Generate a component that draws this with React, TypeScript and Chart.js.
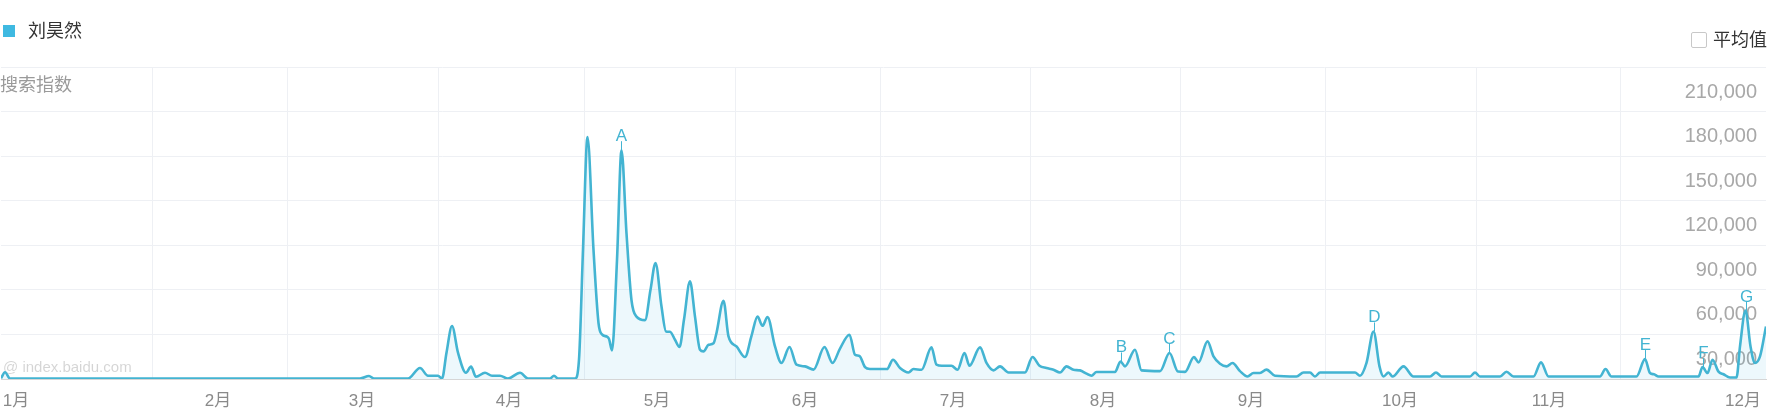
import React, { useEffect, useRef } from 'react';
import { Chart, registerables } from 'chart.js';

Chart.register(...registerables);

// ---------- data ----------
const seriesName = '刘昊然';
const yAxisTitle = '搜索指数';
const averageLabel = '平均值';
const watermark = '@ index.baidu.com';

// position along the time axis (day-like units) and search index value
const days = [
  0, 0.8, 1.8, 11.8, 29.8, 49.8, 71.8, 73.6, 74.6, 81.4, 83.8, 85.4, 87.4, 88.2, 89.1, 90.2, 91.4, 93.0, 94.0, 95.0,
  96.8, 98.2, 99.8, 101.4, 103.8, 105.4, 109.8, 110.6, 111.4, 114.8, 115.6, 116.4, 117.3, 118.5, 119.5, 120.2, 121.2,
  121.6, 122.2, 123.2, 124.1, 125.1, 126.1, 127.1, 128.8, 129.9, 130.9, 132.1, 133.0, 133.8, 134.8, 135.7, 136.6,
  137.8, 138.8, 139.8, 140.5, 141.5, 142.5, 143.1, 144.5, 145.5, 147.1, 148.8, 150.1, 151.3, 152.3, 153.3, 154.8,
  156.1, 157.7, 159.1, 160.8, 162.5, 164.7, 166.3, 167.8, 169.7, 170.8, 171.7, 172.8, 173.8, 177.2, 178.4, 179.8,
  181.5, 182.5, 184.1, 186.1, 187.1, 188.2, 190.1, 191.3, 192.7, 193.7, 195.8, 197.1, 198.5, 199.8, 201.5, 204.8,
  206.3, 207.7, 209.1, 210.5, 211.8, 213.1, 214.5, 215.8, 217.1, 218.1, 219.1, 222.8, 223.9, 224.8, 226.8, 228.1,
  231.8, 233.7, 235.4, 236.8, 238.6, 239.5, 241.3, 242.5, 243.8, 245.1, 246.3, 247.8, 249.3, 250.5, 251.8, 253.1,
  254.8, 259.1, 260.5, 261.8, 262.8, 263.8, 270.8, 271.8, 273.1, 274.5, 275.7, 276.5, 277.5, 278.3, 280.5, 282.5,
  285.8, 287.0, 288.1, 293.8, 294.8, 295.8, 299.8, 301.1, 302.5, 306.5, 308.0, 309.5, 319.8, 320.9, 322.1, 327.1,
  328.8, 329.8, 330.6, 331.5, 339.5, 340.3, 341.3, 342.3, 343.5, 344.5, 345.8, 347.1, 347.8, 348.9, 349.9, 350.8,
  351.8, 353.0,
];
const values = [
  500, 4500, 300, 300, 300, 300, 300, 2000, 300, 300, 7400, 2200, 2200, 300, 17700, 35700, 17700, 4200, 8300, 1500,
  4200, 2200, 2200, 300, 4200, 300, 300, 2200, 300, 300, 13000, 87000, 162800, 86900, 37700, 30000, 28500,
  27000, 19300, 80000, 154000, 98000, 53000, 42000, 39600, 60000, 78000, 48800, 32000, 31800, 26400, 21500, 40000,
  65700, 42000, 19700, 18600, 23000, 24000, 31000, 52700, 28700, 21900, 14800, 29000, 42000, 35800, 41700, 21900,
  10800, 21500, 9600, 8500, 6300, 21500, 10800, 20500, 29800, 16300, 15500, 8000, 6700, 6700, 13000, 7400,
  4400, 6700, 6200, 21300, 9600, 8900, 8900, 6200, 17500, 8900, 21300, 10800, 5800, 8500, 4400, 4400,
  14800, 8900, 7400, 6200, 4400, 8500, 6200, 5800, 3600, 2200, 4700, 4700, 11800, 8500, 19700, 5800,
  5300, 17500, 5000, 4800, 14800, 11200, 25300, 15200, 10300, 8500, 10800, 5300, 1700, 4000, 4000, 6300,
  2200, 1700, 4400, 4400, 1700, 4400, 4400, 2200, 10800, 32000, 8500, 1700, 4400, 1700, 8500, 1700,
  1700, 4400, 1700, 1700, 4400, 1700, 1700, 4900, 1700, 1700, 11200, 1700, 1700, 6700, 1700, 1700,
  13400, 4000, 3200, 1700, 1700, 8000, 4000, 13000, 5000, 3200, 1000, 1000, 22000, 46000, 22000, 10800,
  15200, 35400,
];

const monthLabels = ['1月', '2月', '3月', '4月', '5月', '6月', '7月', '8月', '9月', '10月', '11月', '12月'];
const monthTickDays = [3.0, 43.4, 72.2, 101.6, 131.2, 160.8, 190.4, 220.4, 250.0, 279.8, 309.6, 348.4];
const gridDays = [30.2, 57.2, 87.4, 116.6, 146.8, 175.8, 205.8, 235.8, 264.8, 295.0, 323.8];
const axisMaxDay = 353;
const yMax = 210000;
const yStep = 30000;

const markerLabels = ['A', 'B', 'C', 'D', 'E', 'F', 'G'];
const markerDays = [124.1, 223.9, 233.7, 274.5, 328.8, 340.3, 348.9];

// ---------- styles ----------
const lineColor = '#43b4d2';
const legendColor = '#3fb9e1';
const latin = '"Liberation Sans", Arial, "Noto Sans CJK SC", sans-serif';

const markerPlugin = {
  id: 'peakMarkers',
  beforeDatasetsDraw(chart: any) {
    const { ctx, chartArea } = chart;
    ctx.save();
    ctx.font = `15px ${latin}`;
    ctx.fillStyle = 'rgba(0,0,0,0.17)';
    ctx.textAlign = 'left';
    ctx.textBaseline = 'middle';
    ctx.fillText(watermark, chartArea.left + 2, chartArea.bottom - 11);
    ctx.restore();
  },
  afterDatasetsDraw(chart: any) {
    const { ctx } = chart;
    const xs = chart.scales.x;
    const ys = chart.scales.y;
    ctx.save();
    ctx.font = `17px ${latin}`;
    ctx.fillStyle = lineColor;
    ctx.strokeStyle = lineColor;
    ctx.lineWidth = 1;
    ctx.textAlign = 'center';
    ctx.textBaseline = 'alphabetic';
    markerLabels.forEach((label, i) => {
      const d = markerDays[i];
      const idx = days.indexOf(d);
      if (idx < 0) return;
      const px = Math.round(xs.getPixelForValue(d)) + 0.5;
      const py = ys.getPixelForValue(values[idx]);
      ctx.beginPath();
      ctx.moveTo(px, py);
      ctx.lineTo(px, py - 9);
      ctx.stroke();
      ctx.fillText(label, px, py - 9);
    });
    ctx.restore();
  },
};

export default function App() {
  const ref = useRef<HTMLCanvasElement>(null);

  useEffect(() => {
    if (!ref.current) return;
    const allTicks = [...monthTickDays, ...gridDays].sort((a, b) => a - b);
    const chart = new Chart(ref.current, {
      type: 'line',
      data: {
        datasets: [
          {
            label: seriesName,
            data: days.map((d, i) => ({ x: d, y: values[i] })),
            borderColor: lineColor,
            backgroundColor: 'rgba(80, 190, 222, 0.10)',
            borderWidth: 2.6,
            pointRadius: 0,
            fill: 'origin',
            cubicInterpolationMode: 'monotone',
          },
        ],
      },
      options: {
        animation: false,
        responsive: false,
        devicePixelRatio: 1,
        layout: { padding: { top: 67, left: 1, right: 9, bottom: 0 } },
        plugins: { legend: { display: false }, tooltip: { enabled: false } },
        scales: {
          x: {
            type: 'linear',
            min: 0,
            max: axisMaxDay,
            afterBuildTicks: (scale: any) => {
              scale.ticks = allTicks.map((v) => ({ value: v }));
            },
            afterFit: (scale: any) => {
              scale.height = 37;
              scale.paddingLeft = 0;
              scale.paddingRight = 0;
            },
            ticks: {
              autoSkip: false,
              maxRotation: 0,
              padding: 12,
              color: '#8a8a8a',
              font: { size: 17, family: latin },
              callback: (value: any) => {
                const i = monthTickDays.indexOf(Number(value));
                return i >= 0 ? monthLabels[i] : '';
              },
            },
            grid: {
              drawTicks: false,
              lineWidth: 1,
              color: (c: any) => (c.tick && gridDays.indexOf(c.tick.value) >= 0 ? '#eef0f4' : 'rgba(0,0,0,0)'),
            },
            border: { display: true, color: '#d6d6d6', width: 1 },
          },
          y: {
            position: 'right',
            min: 0,
            max: yMax,
            afterFit: (scale: any) => {
              scale.width = 0;
              scale.paddingTop = 0;
              scale.paddingBottom = 0;
            },
            ticks: {
              stepSize: yStep,
              mirror: true,
              padding: -9,
              labelOffset: 25,
              color: '#a8a8a8',
              font: { size: 20, family: latin },
              callback: (value: any) => (Number(value) === 0 ? '' : Number(value).toLocaleString('en-US')),
            },
            grid: { drawTicks: false, color: '#eef0f4', lineWidth: 1 },
            border: { display: false },
          },
        },
      },
      plugins: [markerPlugin],
    } as any);
    return () => chart.destroy();
  }, []);

  const cjk = '"Liberation Sans", "Noto Sans CJK SC", sans-serif';
  return (
    <div
      style={{
        position: 'absolute',
        left: 0,
        top: 0,
        width: 1775,
        height: 416,
        background: '#fff',
        overflow: 'hidden',
        fontFamily: cjk,
      }}
    >
      <canvas ref={ref} width={1775} height={416} style={{ position: 'absolute', left: 0, top: 0 }} />
      <div style={{ position: 'absolute', left: 3, top: 25, width: 12, height: 12, background: legendColor }} />
      <div style={{ position: 'absolute', left: 28, top: 22, fontSize: 18, lineHeight: '18px', color: '#333' }}>
        {seriesName}
      </div>
      <div style={{ position: 'absolute', left: 0, top: 76, fontSize: 18, lineHeight: '18px', color: '#9a9a9a' }}>
        {yAxisTitle}
      </div>
      <div
        style={{
          position: 'absolute',
          left: 1691,
          top: 32,
          width: 14,
          height: 14,
          border: '1px solid #c8c8c8',
          borderRadius: 2,
          background: '#fff',
        }}
      />
      <div style={{ position: 'absolute', left: 1713, top: 31, fontSize: 18, lineHeight: '18px', color: '#333' }}>
        {averageLabel}
      </div>
    </div>
  );
}
